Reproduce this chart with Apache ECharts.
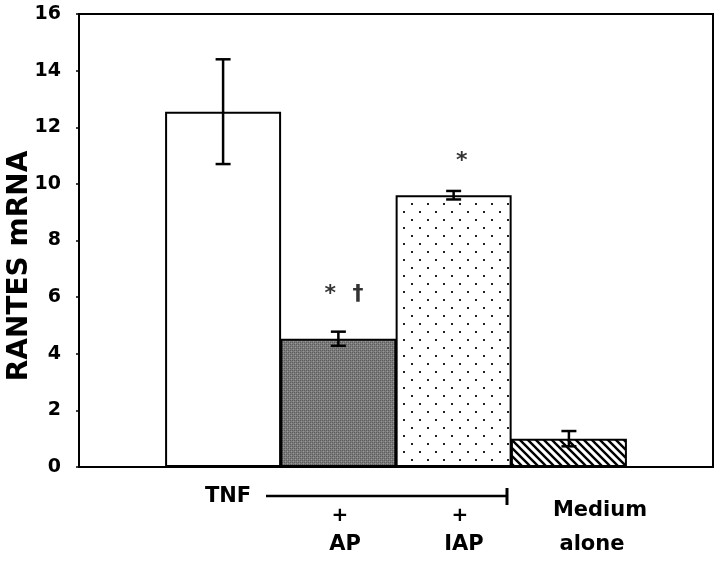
<!DOCTYPE html>
<html>
<head>
<meta charset="utf-8">
<script src="https://cdn.jsdelivr.net/npm/echarts@6/dist/echarts.min.js"></script>
<style>
html,body{margin:0;padding:0;background:#fff;}
#main{width:720px;height:562px;}
</style>
</head>
<body>
<div id="main"></div>
<script>
// ---- data ----
var categories = ['TNF', 'TNF + AP', 'TNF + IAP', 'Medium alone'];
var means = [12.55, 4.53, 9.6, 1.0];
var errors = [1.85, 0.25, 0.15, 0.27];
var yTicks = [0, 2, 4, 6, 8, 10, 12, 14, 16];
var annotText = ['*', '\u2020', '*'];
var annotX = [2.18, 2.42, 3.32];
var annotY = [6.1, 6.1, 10.8];

// ---- patterns ----
function makeCanvas(w, h, draw) {
  var c = document.createElement('canvas');
  c.width = w; c.height = h;
  var ctx = c.getContext('2d');
  draw(ctx, w, h);
  return c;
}
var patGray = makeCanvas(4, 4, function (ctx, w, h) {
  ctx.fillStyle = '#7c7c7c'; ctx.fillRect(0, 0, w, h);
  ctx.fillStyle = '#5c5c5c';
  ctx.fillRect(0, 0, 1, 1); ctx.fillRect(2, 2, 1, 1); ctx.fillRect(2, 0, 1, 1); ctx.fillRect(0, 2, 1, 1);
  ctx.fillStyle = '#989898';
  ctx.fillRect(1, 1, 1, 1); ctx.fillRect(3, 3, 1, 1);
});
var patDots = makeCanvas(16, 16, function (ctx, w, h) {
  ctx.fillStyle = '#ffffff'; ctx.fillRect(0, 0, w, h);
  ctx.fillStyle = '#222';
  ctx.fillRect(3, 3, 2, 2);
  ctx.fillRect(11, 11, 2, 2);
});
var patHatch = makeCanvas(8, 8, function (ctx, w, h) {
  ctx.fillStyle = '#ffffff'; ctx.fillRect(0, 0, w, h);
  ctx.strokeStyle = '#000'; ctx.lineWidth = 2.4;
  ctx.beginPath();
  ctx.moveTo(-2, -2); ctx.lineTo(10, 10);
  ctx.moveTo(-10, -2); ctx.lineTo(2, 10);
  ctx.moveTo(6, -2); ctx.lineTo(18, 10);
  ctx.stroke();
});
var fills = ['#ffffff', {image: patGray, repeat: 'repeat'}, {image: patDots, repeat: 'repeat'}, {image: patHatch, repeat: 'repeat'}];

var barData = means.map(function (v, i) {
  return {value: [i + 1.25, v], itemStyle: {color: fills[i]}};
});
var errData = means.map(function (v, i) {
  return [i + 1.25, v - errors[i], v + errors[i]];
});
var annData = annotText.map(function (t, i) { return [annotX[i], annotY[i], t]; });

var chart = echarts.init(document.getElementById('main'), null, {renderer: 'canvas'});
var FONT = '"DejaVu Sans", sans-serif';

function txt(x, y, s, size) {
  return {type: 'text', x: x, y: y, style: {text: s, font: 'bold ' + size + 'px ' + FONT, fill: '#000', textAlign: 'center', textVerticalAlign: 'middle'}};
}

chart.setOption({
  animation: false,
  backgroundColor: '#fff',
  grid: {left: 79, right: 7, top: 14, bottom: 95, show: true, borderColor: '#000', borderWidth: 2,
    backgroundColor: 'transparent', containLabel: false, outerBoundsMode: 'none'},
  xAxis: {type: 'value', min: 0, max: 5.5, show: false},
  yAxis: {
    type: 'value', min: 0, max: 16, interval: 2,
    axisLine: {show: true, lineStyle: {color: '#000', width: 2}},
    axisTick: {show: true, length: 3, lineStyle: {color: '#000', width: 1.5}},
    splitLine: {show: false},
    axisLabel: {fontFamily: FONT, fontWeight: 'bold', fontSize: 19, color: '#000', margin: 18,
      formatter: function (v) { return yTicks.indexOf(v) >= 0 ? String(v) : ''; }}
  },
  series: [
    {
      type: 'bar', data: barData, barWidth: 116,
      itemStyle: {borderColor: '#000', borderWidth: 2},
      z: 2
    },
    {
      type: 'custom', data: errData, z: 5,
      renderItem: function (params, api) {
        var x = api.value(0);
        var lo = api.coord([x, api.value(1)]);
        var hi = api.coord([x, api.value(2)]);
        var cw = 7.5;
        var st = {stroke: '#000', lineWidth: 2.5};
        return {type: 'group', children: [
          {type: 'line', shape: {x1: lo[0], y1: lo[1], x2: hi[0], y2: hi[1]}, style: st},
          {type: 'line', shape: {x1: lo[0] - cw, y1: lo[1], x2: lo[0] + cw, y2: lo[1]}, style: st},
          {type: 'line', shape: {x1: hi[0] - cw, y1: hi[1], x2: hi[0] + cw, y2: hi[1]}, style: st}
        ]};
      }
    },
    {
      type: 'scatter', data: annData, symbolSize: 0, z: 6,
      label: {show: true, position: 'inside', color: '#000', fontFamily: FONT, fontWeight: 'bold', fontSize: 22,
        formatter: function (p) { return p.data[2]; }}
    }
  ],
  graphic: [
    {type: 'text', x: 20, y: 266, rotation: Math.PI / 2,
      style: {text: 'RANTES mRNA', font: 'bold 28px ' + FONT, fill: '#000', textAlign: 'center', textVerticalAlign: 'middle'}},
    txt(228, 497, 'TNF', 21),
    {type: 'line', shape: {x1: 266, y1: 496, x2: 507, y2: 496}, style: {stroke: '#000', lineWidth: 2.5}},
    {type: 'line', shape: {x1: 507, y1: 488, x2: 507, y2: 505}, style: {stroke: '#000', lineWidth: 3}},
    txt(340, 516, '+', 20),
    txt(460, 516, '+', 20),
    txt(345, 545, 'AP', 21),
    txt(464, 545, 'IAP', 21),
    txt(600, 511, 'Medium', 21),
    txt(592, 545, 'alone', 21)
  ]
});
</script>
</body>
</html>
